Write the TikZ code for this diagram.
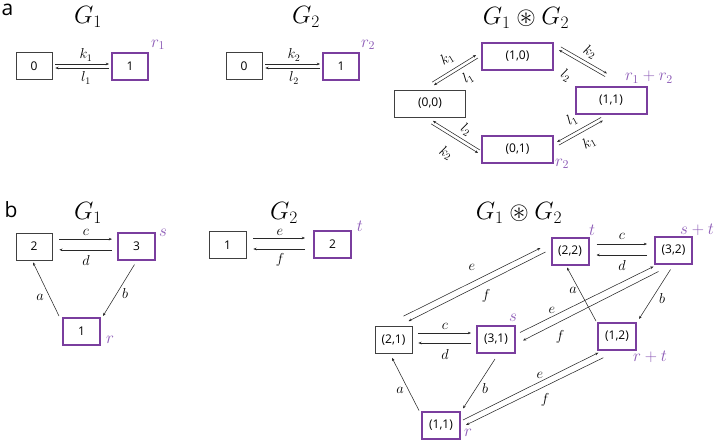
\RequirePackage{fix-cm}
\documentclass[tikz,border=0pt]{standalone}
\usepackage{amssymb}
\usepackage{fontspec}
\newfontfamily\boxfont{Open Sans}
\newfontfamily\panelfont{Open Sans}
\usetikzlibrary{arrows.meta}
\definecolor{pborder}{RGB}{122,62,158}
\definecolor{plabel}{RGB}{140,90,182}
\definecolor{lineg}{RGB}{40,40,40}
\begin{document}
\begin{tikzpicture}[x=1pt,y=-1pt,
  bx/.style={draw=black!75,line width=0.7pt,minimum height=27pt,inner sep=0pt,font=\boxfont\fontsize{12}{13}\selectfont},
  pbx/.style={bx,draw=pborder,line width=2pt},
  arr/.style={draw=lineg,line width=0.55pt,-{Stealth[length=3.2pt,width=2.6pt]}},
  lab/.style={inner sep=0pt,font=\fontsize{14.4}{16}\selectfont},
  plab/.style={inner sep=0pt,text=plabel,font=\fontsize{17}{19}\selectfont},
  ttl/.style={inner sep=0pt,font=\fontsize{25}{28}\selectfont},
  pnl/.style={inner sep=0pt,font=\panelfont\fontsize{21}{24}\selectfont}]
\useasboundingbox (0,0) rectangle (720,442);

% ================= panel a =================
\node[pnl] (pa) at (7.5,9.5) {a};
\node[ttl] (ta1) at (88,17) {$G_1$};
\node[ttl] (ta2) at (306,17) {$G_2$};
\node[ttl] (ta3) at (526,18) {$G_1\circledast G_2$};

% G1
\node[bx,minimum width=36pt] (a0) at (34,66) {0};
\node[pbx,minimum width=36pt] (a1) at (130,66) {1};
\draw[arr] ([shift={(3,-2)}]a0.east) -- ([shift={(-2,-2)}]a1.west);
\draw[arr] ([shift={(-2,2)}]a1.west) -- ([shift={(3,2)}]a0.east);
\node[lab] (lk1) at (86,55) {$k_1$};
\node[lab] (ll1) at (86,78) {$l_1$};
\node[plab] (lr1) at (158,45) {$r_1$};

% G2
\node[bx,minimum width=36pt] (b0) at (244,66) {0};
\node[pbx,minimum width=36pt] (b1) at (341,66) {1};
\draw[arr] ([shift={(3,-2)}]b0.east) -- ([shift={(-2,-2)}]b1.west);
\draw[arr] ([shift={(-2,2)}]b1.west) -- ([shift={(3,2)}]b0.east);
\node[lab] (lk2) at (294,55) {$k_2$};
\node[lab] (ll2) at (294,78) {$l_2$};
\node[plab] (lr2) at (368,45) {$r_2$};

% product
\node[bx,minimum width=71pt] (n00) at (430,103.5) {(0,0)};
\node[pbx,minimum width=71pt] (n10) at (517.5,56.5) {(1,0)};
\node[pbx,minimum width=71pt] (n11) at (611,100.5) {(1,1)};
\node[pbx,minimum width=71pt] (n01) at (517.5,149.5) {(0,1)};
% (0,0)-(1,0)
\draw[arr] ([shift={(2.1,-7.5)}]n00.north) -- ([shift={(-4.9,-1.5)}]n10.west);
\draw[arr] ([shift={(-3.1,1.5)}]n10.west) -- ([shift={(3.9,-4.5)}]n00.north);
\node[lab,rotate=31] (pk1a) at (447,59) {$k_1$};
\node[lab,rotate=31] (pl1a) at (468,78) {$l_1$};
% (1,0)-(1,1)
\draw[arr] ([shift={(6.9,-9.6)}]n10.east) -- ([shift={(-4.1,-12.6)}]n11.north);
\draw[arr] ([shift={(-5.9,-9.4)}]n11.north) -- ([shift={(5.1,-6.4)}]n10.east);
\node[lab,rotate=-30] (pk2a) at (590,52) {$k_2$};
\node[lab,rotate=-30] (pl2a) at (566,76) {$l_2$};
% (0,1)-(1,1)
\draw[arr] ([shift={(-9.9,2.4)}]n11.south) -- ([shift={(3.1,-7.6)}]n01.east);
\draw[arr] ([shift={(4.9,-4.4)}]n01.east) -- ([shift={(-8.1,5.6)}]n11.south);
\node[lab,rotate=29] (pl1b) at (572,120) {$l_1$};
\node[lab,rotate=29] (pk1b) at (589,143) {$k_1$};
% (0,0)-(0,1)
\draw[arr] ([shift={(-1.1,0.5)}]n01.west) -- ([shift={(2.9,3.5)}]n00.south);
\draw[arr] ([shift={(1.1,6.5)}]n00.south) -- ([shift={(-2.9,3.5)}]n01.west);
\node[lab,rotate=-31] (pl2b) at (466,130) {$l_2$};
\node[lab,rotate=-31] (pk2b) at (446,153) {$k_2$};
\node[plab] (lr12) at (649,77) {$r_1+r_2$};
\node[plab] (lr2b) at (562,164) {$r_2$};

% ================= panel b =================
\node[pnl] (pb) at (11,210) {b};
\node[ttl] (tb1) at (88,213) {$G_1$};
\node[ttl] (tb2) at (284,213) {$G_2$};
\node[ttl] (tb3) at (519,213) {$G_1\circledast G_2$};

% G1
\node[bx,minimum width=36pt] (g2) at (34,246.5) {2};
\node[pbx,minimum width=37pt] (g3) at (136.5,246) {3};
\node[pbx,minimum width=37pt] (g1) at (81.5,331.5) {1};
\draw[arr] ([shift={(7,-7.4)}]g2.east) -- ([shift={(-5,-6.9)}]g3.west);
\draw[arr] ([shift={(-5,3.8)}]g3.west) -- ([shift={(7,3.3)}]g2.east);
\draw[arr] ([shift={(-3,-1)}]g1.north west) -- ([shift={(-1,2)}]g2.south);
\draw[arr] ([shift={(-2,4)}]g3.south) -- ([shift={(2,-1)}]g1.north east);
\node[lab] (lc1) at (86,232) {$c$};
\node[lab] (ld1) at (86,260) {$d$};
\node[lab] (la1) at (40,297) {$a$};
\node[lab] (lb1) at (125,293) {$b$};
\node[plab] (ls1) at (163,233) {$s$};
\node[plab] (lrr1) at (110,340) {$r$};

% G2
\node[bx,minimum width=37pt] (h1) at (227.5,245) {1};
\node[pbx,minimum width=37pt] (h2) at (332.5,244.5) {2};
\draw[arr] ([shift={(7,-7)}]h1.east) -- ([shift={(-8,-6.5)}]h2.west);
\draw[arr] ([shift={(-8,4.5)}]h2.west) -- ([shift={(7,4)}]h1.east);
\node[lab] (le2) at (280,232) {$e$};
\node[lab] (lf2) at (280,260) {$f$};
\node[plab] (lt2) at (360,226) {$t$};

% product
\node[pbx,minimum width=37pt] (m22) at (570,251) {(2,2)};
\node[pbx,minimum width=37pt] (m32) at (673.5,250) {(3,2)};
\node[bx,minimum width=37pt] (m21) at (393.5,340) {(2,1)};
\node[pbx,minimum width=38pt] (m31) at (496,339.5) {(3,1)};
\node[pbx,minimum width=38pt] (m12) at (617,336.5) {(1,2)};
\node[pbx,minimum width=38pt] (m11) at (441,425) {(1,1)};
% c/d top
\draw[arr] ([shift={(7,-7)}]m22.east) -- ([shift={(-7,-6)}]m32.west);
\draw[arr] ([shift={(-7,5)}]m32.west) -- ([shift={(7,4)}]m22.east);
\node[lab] (lc2) at (622,236) {$c$};
\node[lab] (ld2) at (622,265) {$d$};
% c/d bottom
\draw[arr] ([shift={(6,-7)}]m21.east) -- ([shift={(-5,-6.5)}]m31.west);
\draw[arr] ([shift={(-5,3.5)}]m31.west) -- ([shift={(6,3)}]m21.east);
\node[lab] (lc3) at (445,326) {$c$};
\node[lab] (ld3) at (445,354) {$d$};
% e/f (2,1)-(2,2)
\draw[arr] ([shift={(10,-10)}]m21.north) -- ([shift={(-10,-3)}]m22.west);
\draw[arr] ([shift={(-5,1)}]m22.west) -- ([shift={(15,-5)}]m21.north);
\node[lab] (le3) at (472,267) {$e$};
\node[lab] (lf3) at (486,296) {$f$};
% e/f (3,1)-(3,2)
\draw[arr] ([shift={(4,-7)}]m31.east) -- ([shift={(-20,2)}]m32.south);
\draw[arr] ([shift={(-15,7)}]m32.south) -- ([shift={(7,1)}]m31.east);
\node[lab] (le4) at (552,310) {$e$};
\node[lab] (lf4) at (560,337) {$f$};
% e/f (1,1)-(1,2)
\draw[arr] ([shift={(2,-5)}]m11.east) -- ([shift={(-18.7,1.7)}]m12.south);
\draw[arr] ([shift={(-13.7,6.7)}]m12.south) -- ([shift={(5,0)}]m11.east);
\node[lab] (le5) at (540,375) {$e$};
\node[lab] (lf5) at (545,400) {$f$};
% a/b
\draw[arr] ([shift={(-2,0)}]m11.north west) -- ([shift={(-1.5,4)}]m21.south);
\draw[arr] ([shift={(-1,5)}]m31.south) -- ([shift={(2,-2)}]m11.north east);
\draw[arr] ([shift={(-1,-1)}]m12.north west) -- ([shift={(-3,2)}]m22.south);
\draw[arr] ([shift={(-3,5)}]m32.south) -- ([shift={(2,-3)}]m12.north east);
\node[lab] (la3) at (400,390) {$a$};
\node[lab] (lb3) at (485,388) {$b$};
\node[lab] (la4) at (573,290) {$a$};
\node[lab] (lb4) at (662,298) {$b$};
% purple labels
\node[plab] (lt3) at (592,230) {$t$};
\node[plab] (lst) at (697,230) {$s+t$};
\node[plab] (ls3) at (513,318) {$s$};
\node[plab] (lrt) at (650,357) {$r+t$};
\node[plab] (lr3) at (468,433) {$r$};
\end{tikzpicture}
\end{document}
